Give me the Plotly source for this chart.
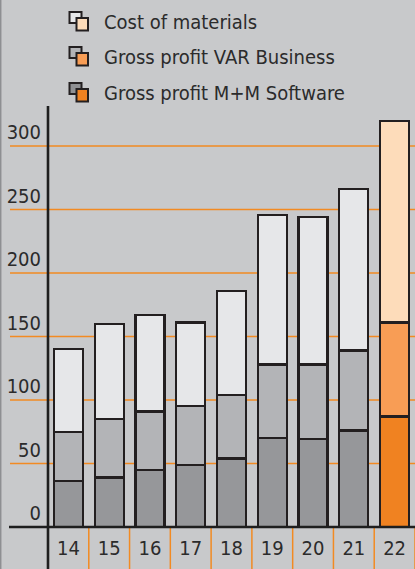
import plotly.graph_objects as go

years = ["14", "15", "16", "17", "18", "19", "20", "21", "22"]
mm_software = [36, 39, 45, 49, 54, 70, 69, 76, 87]
var_business = [39, 46, 46, 46, 50, 58, 59, 63, 74]
cost_materials = [65, 75, 76, 66, 82, 118, 116, 127, 159]
y_ticks = [0, 50, 100, 150, 200, 250, 300]
legend_labels = ["Cost of materials", "Gross profit VAR Business", "Gross profit M+M Software"]

W, H = 415, 569
ML, MR, MT, MB = 48, 0, 108, 42
PW, PH = W - ML - MR, H - MT - MB

def X(px):
    return (px - ML) / PW

def Y(py):
    return (H - MB - py) / PH

FONT = "Liberation Sans Narrow, Arial Narrow, DejaVu Sans Condensed, sans-serif"
TXT = "#2b2b2b"
OUT = "#231f20"
ORANGE_GRID = "#f28a22"

gray_cols = ["#96979a", "#b3b4b7", "#e6e7e9"]
orange_cols = ["#f08221", "#f89d55", "#fddcba"]

idx = list(range(len(years)))
series = [mm_software, var_business, cost_materials]
fig = go.Figure()
for s_i, vals in enumerate(series):
    colors = [gray_cols[s_i]] * (len(years) - 1) + [orange_cols[s_i]]
    fig.add_trace(go.Bar(
        x=idx, y=vals, marker=dict(color=colors, line=dict(color=OUT, width=2.2)),
        width=0.71, showlegend=False, hoverinfo="skip"))

shapes = []
# grid lines (orange) extending into left margin
for t in y_ticks[1:]:
    shapes.append(dict(type="line", xref="paper", yref="y", x0=X(10), x1=1.0, y0=t, y1=t,
                       line=dict(color=ORANGE_GRID, width=1.5), layer="below"))
# category separators below axis
for k in range(len(years)):
    xb = k + 0.5
    shapes.append(dict(type="line", xref="x", yref="paper", x0=xb, x1=xb, y0=Y(H + 2), y1=0,
                       line=dict(color=ORANGE_GRID, width=1.5)))
# axes lines
shapes.append(dict(type="line", xref="paper", yref="paper", x0=X(9), x1=1.01, y0=0, y1=0,
                   line=dict(color="#1e1e1e", width=2.6)))
shapes.append(dict(type="line", xref="paper", yref="paper", x0=0, x1=0, y0=Y(H + 2), y1=Y(106),
                   line=dict(color="#1e1e1e", width=2.6)))
# left border
shapes.append(dict(type="line", xref="paper", yref="paper", x0=X(0.7), x1=X(0.7), y0=Y(H + 2), y1=Y(-2),
                   line=dict(color="#8e8f92", width=1.5)))

annotations = []
row_y = [22, 57, 93]
back_cols = ["#e6e7e9", "#b3b4b7", "#8f9093"]
for i, lab in enumerate(legend_labels):
    cy = row_y[i]
    shapes.append(dict(type="rect", xref="paper", yref="paper",
                       x0=X(69.5), x1=X(81.5), y0=Y(cy - 10), y1=Y(cy + 1),
                       fillcolor=back_cols[i], line=dict(color=OUT, width=2)))
    shapes.append(dict(type="rect", xref="paper", yref="paper",
                       x0=X(76.5), x1=X(88), y0=Y(cy - 4), y1=Y(cy + 8.5),
                       fillcolor=orange_cols[2 - i], line=dict(color=OUT, width=2)))
    annotations.append(dict(text=lab, xref="paper", yref="paper", x=X(102), y=Y(cy),
                            xanchor="left", yanchor="middle", showarrow=False,
                            font=dict(family=FONT, size=20, color=TXT)))

fig.update_layout(
    width=W, height=H,
    margin=dict(l=ML, r=MR, t=MT, b=MB, pad=0),
    paper_bgcolor="#c8c9cb", plot_bgcolor="rgba(0,0,0,0)",
    barmode="stack", bargap=0.29,
    font=dict(family=FONT, size=20, color=TXT),
    xaxis=dict(range=[-0.5, 8.5], tickvals=idx, ticktext=years, showgrid=False, zeroline=False,
               showline=False, ticks="", ticklabelstandoff=7, fixedrange=True),
    yaxis=dict(range=[0, 330], tickvals=y_ticks, showgrid=False, zeroline=False, showline=False,
               ticks="", ticklabelshift=-14, ticklabelstandoff=6, fixedrange=True),
    shapes=shapes, annotations=annotations, showlegend=False,
)
fig.write_html("out.html")
